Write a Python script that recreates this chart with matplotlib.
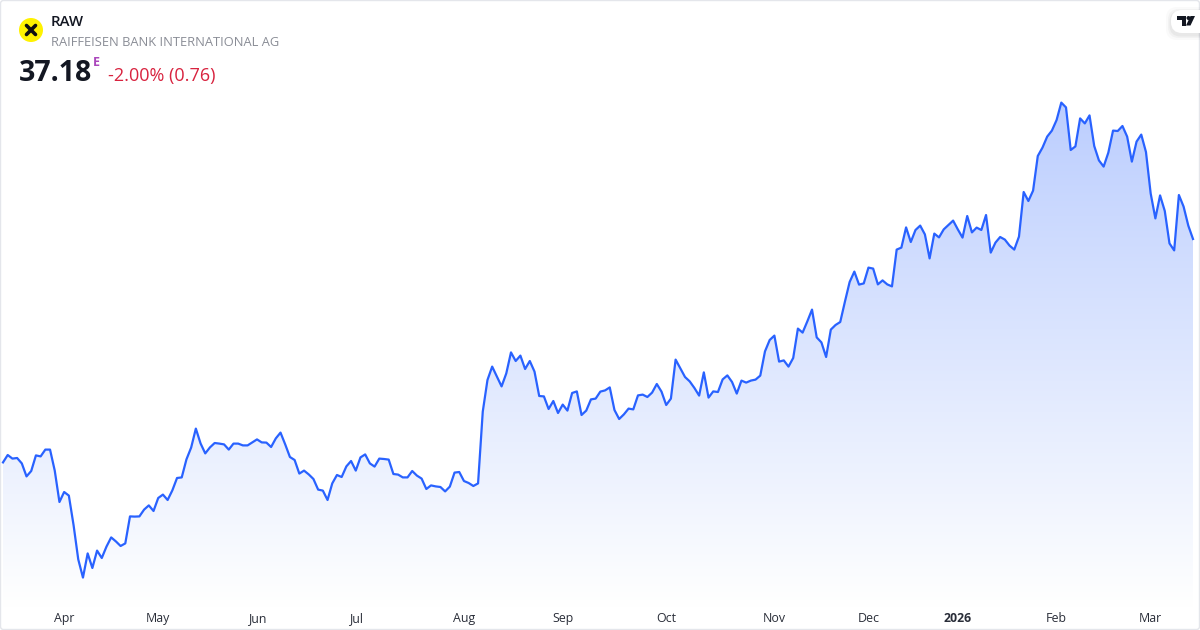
import numpy as np
import matplotlib
matplotlib.use('Agg')
import matplotlib.pyplot as plt
from matplotlib.colors import LinearSegmentedColormap
from matplotlib.patches import Circle, FancyBboxPatch, Polygon

plt.rcParams['font.family'] = ['Open Sans', 'DejaVu Sans']

# Daily closes
closes_spring = [
    26.01, 26.38, 26.20, 26.23, 25.96, 25.31, 25.58, 26.36, 26.31, 26.65, 26.65, 25.60, 24.03, 24.53, 24.35, 22.88,
    21.16, 20.25, 21.46, 20.73, 21.60, 21.23, 21.80, 22.26, 22.06, 21.83, 21.96, 23.31, 23.30, 23.31, 23.65, 23.86,
    23.58, 24.23, 24.40, 24.13, 24.61, 25.23, 25.26, 26.16, 26.75, 27.70, 26.96, 26.46, 26.76, 26.98, 26.95, 26.91,
    26.65, 26.95, 26.95, 26.86, 26.86, 27.01, 27.16, 27.01, 27.00, 26.78, 27.21, 27.50, 26.91, 26.28, 26.13, 25.45,
]
closes_summer = [
    25.60, 25.41, 25.18, 24.65, 24.60, 24.13, 24.96, 25.38, 25.28, 25.81, 26.08, 25.60, 26.26, 26.41, 25.96, 25.80,
    26.20, 26.18, 26.15, 25.43, 25.40, 25.26, 25.26, 25.58, 25.35, 25.20, 24.68, 24.86, 24.81, 24.78, 24.56, 24.80,
    25.50, 25.53, 25.08, 24.98, 24.83, 24.96, 28.55, 30.13, 30.80, 30.30, 29.81, 30.46, 31.51, 31.08, 31.35, 30.68,
    31.08, 30.55, 29.33, 29.31, 28.68, 29.08, 28.48, 28.90, 28.60, 29.48, 29.56, 28.38, 28.60, 29.16, 29.20, 29.55,
]
closes_autumn = [
    29.61, 29.76, 28.63, 28.18, 28.41, 28.70, 28.66, 29.36, 29.40, 29.28, 29.50, 29.93, 29.55, 28.88, 29.20, 31.15,
    30.71, 30.28, 30.06, 29.73, 29.35, 30.51, 29.25, 29.56, 29.53, 30.16, 30.36, 30.03, 29.45, 30.10, 30.00, 30.10,
    30.15, 30.35, 31.56, 32.13, 32.35, 31.05, 31.11, 30.80, 31.23, 32.70, 32.50, 33.06, 33.65, 32.26, 32.01, 31.28,
    32.65, 32.88, 33.03, 34.05, 35.03, 35.55, 34.90, 34.96, 35.75, 35.70, 34.91, 35.11, 34.91, 34.81, 36.65,
]
closes_winter = [
    36.75, 37.76, 37.03, 37.63, 37.85, 37.41, 36.21, 37.45, 37.26, 37.66, 37.88, 38.10, 37.66, 37.25, 38.33, 37.51,
    37.75, 37.63, 38.38, 36.50, 37.00, 37.28, 37.15, 36.85, 36.65, 37.30, 39.53, 39.08, 39.60, 41.33, 41.75, 42.30,
    42.60, 43.13, 44.00, 43.76, 41.63, 41.81, 43.21, 42.96, 43.36, 41.83, 41.11, 40.80, 41.50, 42.60, 42.58, 42.83,
    42.30, 41.05, 42.05, 42.40, 41.53, 39.46, 38.21, 39.36, 38.58, 36.96, 36.61, 39.38, 38.80, 37.85, 37.18,
]
month_labels = ['Apr', 'May', 'Jun', 'Jul', 'Aug', 'Sep', 'Oct', 'Nov', 'Dec', '2026', 'Feb', 'Mar']
month_starts = [13, 33, 54, 75, 98, 119, 141, 164, 184, 203, 224, 244]

ticker = 'RAW'
company = 'RAIFFEISEN BANK INTERNATIONAL AG'
last_price = '37.18'
change_text = '-2.00% (0.76)'

closes = np.array(closes_spring + closes_summer + closes_autumn + closes_winter)
days = np.arange(len(closes))

fig = plt.figure(figsize=(12, 6.3), dpi=100, facecolor='white')

# Price pane, tick labels sit in the strip below it
ax = fig.add_axes([0, 22 / 630, 1, 608 / 630])
step = 1190 / (len(closes) - 1)
ax.set_xlim(-3 / step, 1197 / step)
ax.set_ylim(18.73, 49.13)
ax.patch.set_alpha(0)
for side in ax.spines.values():
    side.set_visible(False)
ax.set_yticks([])
ax.set_xticks(month_starts)
ax.set_xticklabels(month_labels, fontsize=8.9, color='#2a2e39', va='baseline')
ax.tick_params(axis='x', length=0, pad=10)
ax.get_xticklabels()[9].set_fontweight('bold')

# Area gradient fades out to the bottom of the pane
fade = LinearSegmentedColormap.from_list('fade', ['#ffffff', '#bccefe'])
area = ax.fill_between(days, closes, 18.73, facecolor='none', edgecolor='none')
shade = ax.imshow(np.linspace(1, 0, 256).reshape(-1, 1), cmap=fade, aspect='auto', vmin=0, vmax=1,
                  extent=(days[0], days[-1], 18.73, 44.0), zorder=1)
shade.set_clip_path(area.get_paths()[0], transform=ax.transData)
ax.set_xlim(-3 / step, 1197 / step)
ax.set_ylim(18.73, 49.13)
ax.plot(days, closes, color='#2962ff', lw=1.6, solid_joinstyle='round', zorder=2)

# Overlay in pixel coordinates for the header, logos and frame
ui = fig.add_axes([0, 0, 1, 1])
ui.set_xlim(0, 1200)
ui.set_ylim(630, 0)
ui.axis('off')
ui.patch.set_alpha(0)

ui.add_patch(FancyBboxPatch((0.5, 0.5), 1199, 629, boxstyle='round,pad=0,rounding_size=3',
                            fc='none', ec='#e4e6eb', lw=1))

ui.add_patch(Circle((31, 30), 12, fc='#fff200', ec='none'))
ui.plot([26.5, 35.5], [25.5, 34.5], color='#111111', lw=2.6, solid_capstyle='round')
ui.plot([35.5, 26.5], [25.5, 34.5], color='#111111', lw=2.6, solid_capstyle='round')

ui.text(51, 22, ticker, fontsize=10.8, fontweight='semibold', color='#131722', va='center', ha='left')
ui.text(51, 42.5, company, fontsize=9.3, color='#8a8d96', va='center', ha='left')
ui.text(19, 73.5, last_price, fontsize=20.5, fontweight='bold', color='#131722', va='center', ha='left')
ui.text(93, 62.5, 'E', fontsize=9, fontweight='bold', color='#ab47bc', va='center', ha='left')
ui.text(108, 75.5, change_text, fontsize=13, color='#d8233f', va='center', ha='left')

# TradingView badge in the corner
for spread, alpha in [(5, 0.02), (3, 0.03), (1.5, 0.04)]:
    ui.add_patch(FancyBboxPatch((1171 - spread, 10 - spread + 2), 40 + spread, 23 + spread * 2,
                                boxstyle='round,pad=0,rounding_size=11', fc='black', ec='none', alpha=alpha))
ui.add_patch(FancyBboxPatch((1171, 10), 40, 23, boxstyle='round,pad=0,rounding_size=11', fc='white', ec='none'))
ui.add_patch(Polygon([(1177, 16), (1186, 16), (1186, 25.5), (1182, 25.5), (1182, 20), (1177, 20)],
                     fc='#131722', ec='none'))
ui.add_patch(Circle((1188.5, 18), 2, fc='#131722', ec='none'))
ui.add_patch(Polygon([(1190.5, 16), (1195, 16), (1190.5, 25.5), (1186, 25.5)], fc='#131722', ec='none'))
ui.set_xlim(0, 1200)
ui.set_ylim(630, 0)

fig.savefig('out.png', dpi=100)
